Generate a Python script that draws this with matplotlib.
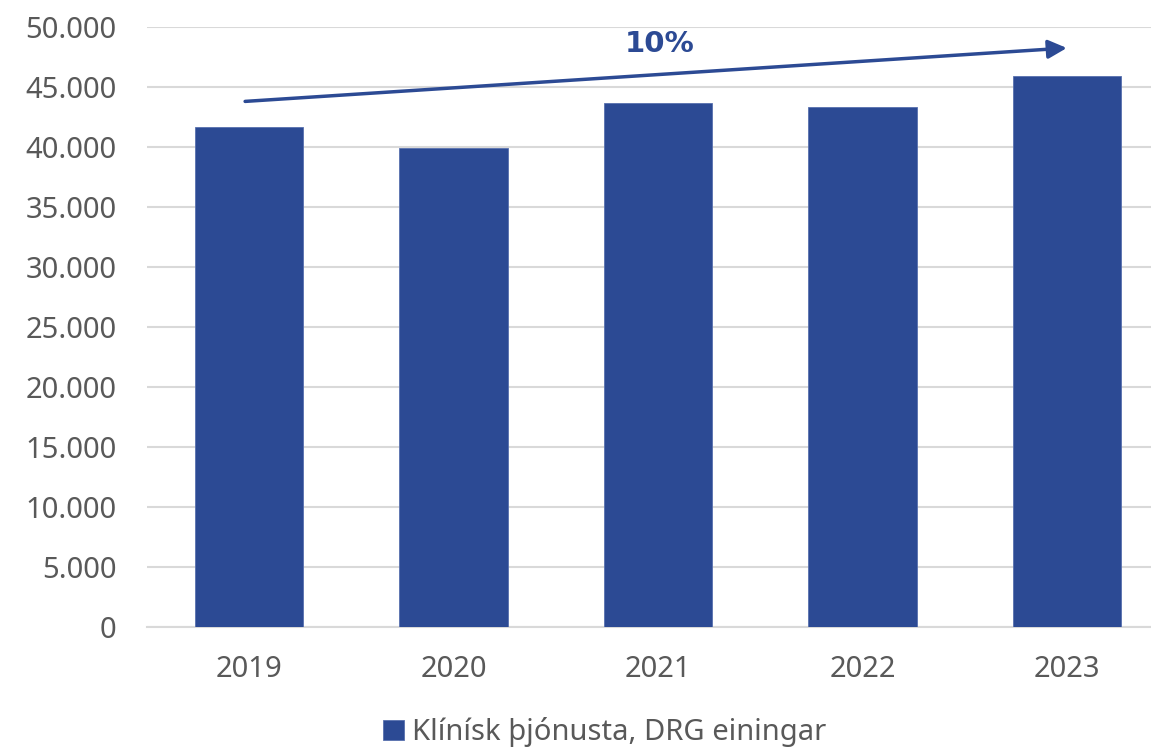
import matplotlib.pyplot as plt
from matplotlib.ticker import FuncFormatter

plt.rcParams['font.family'] = ['Noto Sans', 'DejaVu Sans']

years = ['2019', '2020', '2021', '2022', '2023']
drg_units = [41670, 39900, 43640, 43300, 45890]
series_label = 'Klínísk þjónusta, DRG einingar'
growth_label = '10%'

bar_color = '#2C4A94'
text_gray = '#595959'
grid_gray = '#D9D9D9'

fig = plt.figure(figsize=(11.51, 7.47), dpi=100)
# the right edge of the plot area runs past the picture, as in the original
ax = fig.add_axes([147 / 1151, 120 / 747, 1022 / 1151, 600 / 747])

x = range(len(years))
bars = ax.bar(x, drg_units, width=0.53, color=bar_color,
              edgecolor='#5870AE', linewidth=0.6, zorder=3, label=series_label)

ax.set_xlim(-0.5, len(years) - 0.5)
ax.set_ylim(0, 50000)
ax.set_yticks(range(0, 50001, 5000))
ax.yaxis.set_major_formatter(FuncFormatter(lambda v, p: f'{int(v):,}'.replace(',', '.')))
ax.set_xticks(list(x))
ax.set_xticklabels(years)

ax.grid(axis='y', color=grid_gray, linewidth=1.5, zorder=0)
for s in ['top', 'right', 'left']:
    ax.spines[s].set_visible(False)
ax.spines['bottom'].set_color(grid_gray)
ax.spines['bottom'].set_linewidth(1.5)
ax.tick_params(axis='both', length=0, labelsize=21, colors=text_gray)
ax.tick_params(axis='y', pad=22)
ax.tick_params(axis='x', pad=20)

# growth arrow from first to last year
ax.annotate('', xy=(4.0, 48250), xytext=(-0.02, 43800),
            arrowprops=dict(arrowstyle='-|>', color=bar_color, lw=2.5,
                            mutation_scale=28, shrinkA=0, shrinkB=0),
            zorder=4)
ax.text(2.01, 48550, growth_label, ha='center', va='center',
        fontsize=21, fontweight='bold', color=bar_color, family='DejaVu Sans')

fig.legend(handles=[bars], labels=[series_label], loc='center',
           bbox_to_anchor=(605 / 1151, 1 - 732 / 747), frameon=False,
           fontsize=21, handlelength=0.7, handleheight=0.7, handletextpad=0.3,
           labelcolor=text_gray)

fig.savefig('out.png', dpi=100)
